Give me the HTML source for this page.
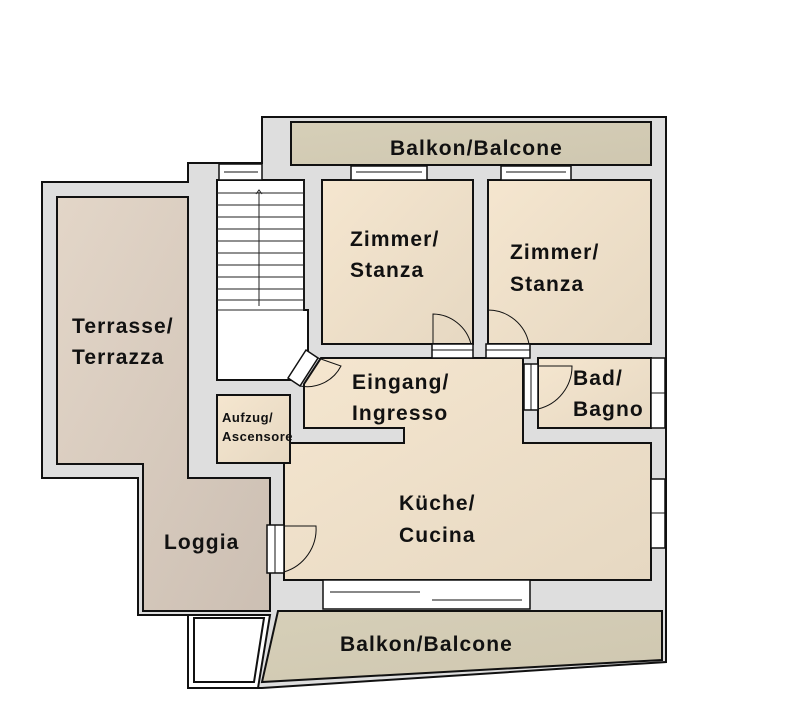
<!DOCTYPE html>
<html><head><meta charset="utf-8"><style>
html,body{margin:0;padding:0;background:#fff;}
svg{display:block;}
text{font-family:"Liberation Sans",sans-serif;font-weight:bold;fill:#111;}
.l{font-size:21px;letter-spacing:1.1px;}
.s{font-size:13px;letter-spacing:0.5px;}
</style></head><body>
<svg width="793" height="716" viewBox="0 0 793 716" xmlns="http://www.w3.org/2000/svg">
<defs>
<linearGradient id="room" x1="0" y1="0" x2="1" y2="1"><stop offset="0" stop-color="#f5e6cf"/><stop offset="1" stop-color="#e6d8c2"/></linearGradient>
<linearGradient id="terr" x1="0" y1="0" x2="1" y2="1"><stop offset="0" stop-color="#e3d6c8"/><stop offset="1" stop-color="#ccbfb3"/></linearGradient>
<linearGradient id="balk" x1="0" y1="0" x2="1" y2="1"><stop offset="0" stop-color="#d6cfb8"/><stop offset="1" stop-color="#cfc7b0"/></linearGradient>
</defs>
<g stroke="#111" stroke-width="2">
<polygon points="42,182 188,182 188,163 262,163 262,117 666,117 666,662 262,688 188,688 188,615 138,615 138,478 42,478" fill="#dedede"/>
<polygon points="57,197 188,197 188,478 270,478 270,611 143,611 143,464 57,464" fill="url(#terr)"/>
<rect x="291" y="122" width="360" height="43" fill="url(#balk)"/>
<rect x="322" y="180" width="151" height="164" fill="url(#room)"/>
<rect x="488" y="180" width="163" height="164" fill="url(#room)"/>
<polygon points="321,358 523,358 523,443 651,443 651,580 284,580 284,443 404,443 404,428 304,428 304,384" fill="url(#room)"/>
<rect x="538" y="358" width="113" height="70" fill="url(#room)"/>
<rect x="217" y="395" width="73" height="68" fill="url(#room)"/>
<polygon points="217,180 304,180 304,310 308,310 308,355 292,380 217,380" fill="#fff"/>
<polygon points="278,611 662,611 662,660 262,682" fill="url(#balk)"/>
<polygon points="188,615 270,615 258,688 188,688" fill="#fff"/>
<polygon points="194,618 264,618 254,682 194,682" fill="#fff"/>
</g>
<g stroke="#222" stroke-width="1">
<line x1="217" y1="193" x2="304" y2="193"/><line x1="217" y1="205" x2="304" y2="205"/>
<line x1="217" y1="217" x2="304" y2="217"/><line x1="217" y1="229" x2="304" y2="229"/>
<line x1="217" y1="241" x2="304" y2="241"/><line x1="217" y1="253" x2="304" y2="253"/>
<line x1="217" y1="265" x2="304" y2="265"/><line x1="217" y1="277" x2="304" y2="277"/>
<line x1="217" y1="289" x2="304" y2="289"/><line x1="217" y1="300" x2="304" y2="300"/>
<line x1="217" y1="310" x2="304" y2="310"/><line x1="304" y1="180" x2="304" y2="310"/>
<line x1="259" y1="192" x2="259" y2="306"/><path d="M256,194 L259,190 L262,194" fill="none"/>
</g>
<g stroke="#111" stroke-width="1.5" fill="#fff">
<rect x="351" y="166" width="76" height="14"/>
<rect x="501" y="166" width="70" height="14"/>
<rect x="219" y="164" width="43" height="16"/>
<rect x="323" y="580" width="207" height="29"/>
<rect x="651" y="358" width="14" height="70"/>
<rect x="651" y="479" width="14" height="69"/>
<rect x="524" y="364" width="14" height="46"/>
<rect x="267" y="525" width="17" height="48"/>
<rect x="432" y="344" width="41" height="14"/>
<rect x="486" y="344" width="44" height="14"/>
<polygon points="288,378 300,386 318,358 306,350"/>
</g>
<g stroke="#111" stroke-width="1" fill="none">
<line x1="506" y1="172" x2="566" y2="172"/><line x1="224" y1="172" x2="258" y2="172"/>
<line x1="356" y1="172" x2="422" y2="172"/>
<line x1="330" y1="592" x2="420" y2="592"/><line x1="432" y1="600" x2="522" y2="600"/>
<line x1="651" y1="393" x2="665" y2="393"/><line x1="651" y1="513" x2="665" y2="513"/>
<line x1="432" y1="350" x2="473" y2="350"/><line x1="486" y1="350" x2="530" y2="350"/>
<line x1="531" y1="364" x2="531" y2="410"/><line x1="275" y1="525" x2="275" y2="573"/>
<path d="M433,344 L433,314 A40,40 0 0 1 471,344"/>
<path d="M488,344 L488,310 A42,42 0 0 1 529,344"/>
<path d="M538,409 L538,366 L572,366 A44,44 0 0 1 538,409"/>
<path d="M284,526 L316,526 A45,45 0 0 1 284,572"/>
<path d="M300,386 A38,38 0 0 0 341,366 L318,358"/>
</g>
<text class="l" x="390" y="155">Balkon/Balcone</text>
<text class="l" x="350" y="246">Zimmer/</text>
<text class="l" x="350" y="277">Stanza</text>
<text class="l" x="510" y="259">Zimmer/</text>
<text class="l" x="510" y="291">Stanza</text>
<text class="l" x="72" y="333">Terrasse/</text>
<text class="l" x="72" y="364">Terrazza</text>
<text class="l" x="352" y="389">Eingang/</text>
<text class="l" x="352" y="420">Ingresso</text>
<text class="l" x="573" y="385">Bad/</text>
<text class="l" x="573" y="416">Bagno</text>
<text class="s" x="222" y="422">Aufzug/</text>
<text class="s" x="222" y="441">Ascensore</text>
<text class="l" x="399" y="510">Küche/</text>
<text class="l" x="399" y="542">Cucina</text>
<text class="l" x="164" y="549">Loggia</text>
<text class="l" x="340" y="651">Balkon/Balcone</text>
</svg>
</body></html>
